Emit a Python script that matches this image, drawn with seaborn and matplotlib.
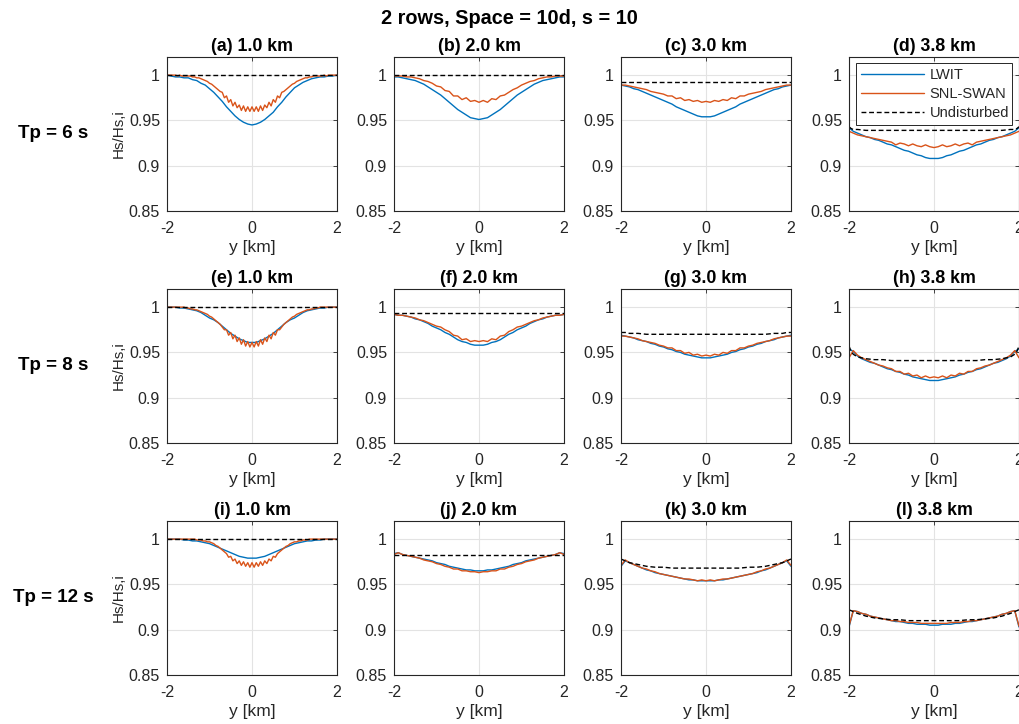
import numpy as np
import matplotlib
matplotlib.use("Agg")
import matplotlib.pyplot as plt
import seaborn as sns

# Cross-shore position grids [km]
Y41 = np.round(np.linspace(-2.0, 2.0, 41), 3)
Y81 = np.round(np.linspace(-2.0, 2.0, 81), 3)
Y_UND = [-2.0, -1.95, -1.9, -1.8, -1.6, -1.4, -1.2, -1.0, -0.8, -0.6, -0.4, -0.2, 0.0,
         0.2, 0.4, 0.6, 0.8, 1.0, 1.2, 1.4, 1.6, 1.8, 1.9, 1.95, 2.0]

PANEL_TITLES = ["(a) 1.0 km", "(b) 2.0 km", "(c) 3.0 km", "(d) 3.8 km",
                "(e) 1.0 km", "(f) 2.0 km", "(g) 3.0 km", "(h) 3.8 km",
                "(i) 1.0 km", "(j) 2.0 km", "(k) 3.0 km", "(l) 3.8 km"]
ROW_LABELS = ["Tp = 6 s", "Tp = 8 s", "Tp = 12 s"]
SERIES = ["LWIT", "SNL-SWAN", "Undisturbed"]

# ---------------- Tp = 6 s ----------------
lwit_a = [1.000, 0.999, 0.998, 0.998, 0.997, 0.997, 0.995, 0.994, 0.991, 0.989,
          0.985, 0.981, 0.976, 0.971, 0.965, 0.960, 0.955, 0.951, 0.948, 0.946,
          0.945,
          0.946, 0.948, 0.951, 0.955, 0.959, 0.965, 0.970, 0.976, 0.981, 0.986,
          0.989, 0.992, 0.994, 0.996, 0.997, 0.998, 0.998, 0.999, 0.999, 1.000]
swan_a = [1.000, 1.000, 1.000, 1.000, 1.000, 0.999, 1.000, 0.999, 0.999, 0.999,
          0.999, 0.999, 0.998, 0.998, 0.997, 0.997, 0.996, 0.995, 0.994, 0.993,
          0.991, 0.990, 0.988, 0.986, 0.984, 0.982, 0.981, 0.975, 0.977, 0.970,
          0.973, 0.966, 0.970, 0.964, 0.967, 0.961, 0.966, 0.960, 0.965, 0.960,
          0.965,
          0.960, 0.965, 0.960, 0.966, 0.961, 0.967, 0.964, 0.970, 0.966, 0.973,
          0.970, 0.977, 0.975, 0.981, 0.982, 0.984, 0.986, 0.988, 0.990, 0.991,
          0.993, 0.994, 0.995, 0.996, 0.997, 0.997, 0.998, 0.998, 0.999, 0.999,
          0.999, 0.999, 0.999, 1.000, 0.999, 1.000, 1.000, 1.000, 1.000, 1.000]
und_a = [1.000, 1.000, 1.000, 1.000, 1.000, 1.000, 1.000, 1.000, 1.000, 1.000, 1.000, 1.000, 1.000,
         1.000, 1.000, 1.000, 1.000, 1.000, 1.000, 1.000, 1.000, 1.000, 1.000, 1.000, 1.000]

lwit_b = [0.998, 0.998, 0.997, 0.996, 0.995, 0.994, 0.992, 0.990, 0.987, 0.984,
          0.981, 0.978, 0.974, 0.970, 0.966, 0.962, 0.959, 0.956, 0.953, 0.952,
          0.951,
          0.952, 0.953, 0.956, 0.959, 0.962, 0.966, 0.970, 0.974, 0.978, 0.981,
          0.984, 0.987, 0.990, 0.992, 0.994, 0.995, 0.996, 0.997, 0.998, 0.998]
swan_b = [0.999, 0.999, 0.999, 0.998, 0.998, 0.997, 0.996, 0.994, 0.993, 0.991,
          0.988, 0.987, 0.983, 0.982, 0.977, 0.977, 0.973, 0.975, 0.971, 0.972,
          0.970,
          0.972, 0.970, 0.974, 0.973, 0.977, 0.978, 0.981, 0.984, 0.986, 0.989,
          0.991, 0.993, 0.994, 0.996, 0.997, 0.998, 0.998, 0.999, 0.999, 0.999]
und_b = [1.000, 1.000, 1.000, 1.000, 1.000, 1.000, 1.000, 1.000, 1.000, 1.000, 1.000, 1.000, 1.000,
         1.000, 1.000, 1.000, 1.000, 1.000, 1.000, 1.000, 1.000, 1.000, 1.000, 1.000, 1.000]

lwit_c = [0.989, 0.988, 0.987, 0.985, 0.984, 0.982, 0.980, 0.978, 0.976, 0.974,
          0.972, 0.970, 0.968, 0.965, 0.963, 0.961, 0.959, 0.957, 0.955, 0.954,
          0.954,
          0.954, 0.955, 0.957, 0.959, 0.961, 0.963, 0.965, 0.968, 0.970, 0.972,
          0.974, 0.976, 0.978, 0.980, 0.982, 0.984, 0.985, 0.987, 0.988, 0.989]
swan_c = [0.989, 0.989, 0.988, 0.987, 0.986, 0.985, 0.984, 0.982, 0.981, 0.980,
          0.979, 0.977, 0.977, 0.974, 0.975, 0.972, 0.973, 0.971, 0.972, 0.970,
          0.971,
          0.970, 0.972, 0.971, 0.973, 0.972, 0.975, 0.974, 0.977, 0.977, 0.979,
          0.980, 0.981, 0.982, 0.984, 0.985, 0.986, 0.987, 0.988, 0.989, 0.989]
und_c = [0.992, 0.992, 0.992, 0.992, 0.992, 0.992, 0.992, 0.992, 0.992, 0.992, 0.992, 0.992, 0.992,
         0.992, 0.992, 0.992, 0.992, 0.992, 0.992, 0.992, 0.992, 0.992, 0.992, 0.992, 0.992]

lwit_d = [0.942, 0.938, 0.936, 0.934, 0.932, 0.931, 0.929, 0.928, 0.926, 0.924,
          0.923, 0.921, 0.919, 0.917, 0.916, 0.914, 0.912, 0.911, 0.909, 0.908,
          0.908,
          0.908, 0.909, 0.911, 0.912, 0.914, 0.916, 0.917, 0.919, 0.921, 0.923,
          0.924, 0.926, 0.928, 0.929, 0.931, 0.932, 0.934, 0.936, 0.938, 0.942]
swan_d = [0.938, 0.936, 0.934, 0.933, 0.932, 0.931, 0.930, 0.929, 0.928, 0.927,
          0.926, 0.923, 0.925, 0.924, 0.922, 0.924, 0.922, 0.921, 0.923, 0.921,
          0.920,
          0.921, 0.923, 0.921, 0.922, 0.924, 0.922, 0.924, 0.925, 0.923, 0.926,
          0.927, 0.928, 0.929, 0.930, 0.931, 0.932, 0.933, 0.934, 0.936, 0.938]
und_d = [0.943, 0.941, 0.940, 0.940, 0.939, 0.939, 0.939, 0.939, 0.939, 0.939, 0.939, 0.939, 0.939,
         0.939, 0.939, 0.939, 0.939, 0.939, 0.939, 0.939, 0.939, 0.940, 0.940, 0.941, 0.943]

# ---------------- Tp = 8 s ----------------
lwit_e = [1.000, 1.000, 1.000, 0.999, 0.999, 0.998, 0.997, 0.996, 0.994, 0.991,
          0.988, 0.986, 0.983, 0.979, 0.975, 0.971, 0.968, 0.965, 0.963, 0.961,
          0.961,
          0.961, 0.963, 0.965, 0.968, 0.971, 0.975, 0.979, 0.983, 0.986, 0.988,
          0.991, 0.994, 0.996, 0.997, 0.998, 0.999, 0.999, 1.000, 1.000, 1.000]
swan_e = [1.000, 1.000, 1.000, 1.000, 1.000, 1.000, 1.000, 1.000, 1.000, 0.999,
          0.999, 0.998, 0.998, 0.997, 0.997, 0.996, 0.995, 0.994, 0.993, 0.992,
          0.990, 0.989, 0.987, 0.985, 0.983, 0.981, 0.978, 0.975, 0.975, 0.969,
          0.972, 0.965, 0.969, 0.962, 0.966, 0.959, 0.964, 0.957, 0.962, 0.956,
          0.961,
          0.956, 0.962, 0.957, 0.964, 0.959, 0.966, 0.962, 0.969, 0.965, 0.972,
          0.969, 0.975, 0.975, 0.978, 0.981, 0.983, 0.985, 0.987, 0.989, 0.990,
          0.992, 0.993, 0.994, 0.995, 0.996, 0.997, 0.997, 0.998, 0.998, 0.999,
          0.999, 1.000, 1.000, 1.000, 1.000, 1.000, 1.000, 1.000, 1.000, 1.000]
und_e = [1.000, 1.000, 1.000, 1.000, 1.000, 1.000, 1.000, 1.000, 1.000, 1.000, 1.000, 1.000, 1.000,
         1.000, 1.000, 1.000, 1.000, 1.000, 1.000, 1.000, 1.000, 1.000, 1.000, 1.000, 1.000]

lwit_f = [0.992, 0.991, 0.991, 0.990, 0.989, 0.987, 0.986, 0.984, 0.982, 0.979,
          0.977, 0.975, 0.972, 0.970, 0.967, 0.964, 0.962, 0.961, 0.959, 0.958,
          0.958,
          0.958, 0.959, 0.961, 0.962, 0.964, 0.967, 0.970, 0.972, 0.975, 0.977,
          0.979, 0.982, 0.984, 0.986, 0.987, 0.989, 0.990, 0.991, 0.991, 0.992]
swan_f = [0.992, 0.991, 0.991, 0.990, 0.989, 0.988, 0.986, 0.985, 0.983, 0.981,
          0.979, 0.978, 0.975, 0.973, 0.969, 0.968, 0.964, 0.965, 0.962, 0.963,
          0.962,
          0.963, 0.962, 0.965, 0.964, 0.968, 0.969, 0.973, 0.975, 0.978, 0.979,
          0.981, 0.983, 0.985, 0.986, 0.988, 0.989, 0.990, 0.991, 0.991, 0.992]
und_f = [0.993, 0.993, 0.993, 0.993, 0.993, 0.993, 0.993, 0.993, 0.993, 0.993, 0.993, 0.993, 0.993,
         0.993, 0.993, 0.993, 0.993, 0.993, 0.993, 0.993, 0.993, 0.993, 0.993, 0.993, 0.993]

lwit_g = [0.969, 0.968, 0.967, 0.966, 0.964, 0.963, 0.962, 0.960, 0.959, 0.957,
          0.956, 0.954, 0.953, 0.951, 0.950, 0.948, 0.947, 0.946, 0.945, 0.944,
          0.944,
          0.944, 0.945, 0.946, 0.947, 0.948, 0.950, 0.951, 0.953, 0.954, 0.956,
          0.957, 0.959, 0.960, 0.962, 0.963, 0.964, 0.966, 0.967, 0.968, 0.969]
swan_g = [0.968, 0.968, 0.967, 0.966, 0.965, 0.963, 0.962, 0.961, 0.960, 0.958,
          0.957, 0.955, 0.955, 0.952, 0.952, 0.949, 0.950, 0.947, 0.948, 0.946,
          0.947,
          0.946, 0.948, 0.947, 0.950, 0.949, 0.952, 0.952, 0.955, 0.955, 0.957,
          0.958, 0.960, 0.961, 0.962, 0.963, 0.965, 0.966, 0.967, 0.968, 0.968]
und_g = [0.972, 0.972, 0.972, 0.971, 0.971, 0.970, 0.970, 0.970, 0.970, 0.970, 0.970, 0.970, 0.970,
         0.970, 0.970, 0.970, 0.970, 0.970, 0.970, 0.970, 0.971, 0.971, 0.972, 0.972, 0.972]

lwit_h = [0.954, 0.951, 0.946, 0.943, 0.941, 0.939, 0.938, 0.936, 0.934, 0.932,
          0.931, 0.929, 0.928, 0.926, 0.925, 0.923, 0.922, 0.921, 0.920, 0.919,
          0.919,
          0.919, 0.920, 0.921, 0.922, 0.923, 0.925, 0.926, 0.928, 0.929, 0.931,
          0.932, 0.934, 0.936, 0.938, 0.939, 0.941, 0.943, 0.946, 0.951, 0.954]
swan_h = [0.944, 0.952, 0.947, 0.944, 0.942, 0.940, 0.938, 0.936, 0.935, 0.933,
          0.932, 0.929, 0.929, 0.926, 0.927, 0.924, 0.925, 0.922, 0.924, 0.922,
          0.923,
          0.922, 0.924, 0.922, 0.925, 0.924, 0.927, 0.926, 0.929, 0.929, 0.932,
          0.933, 0.935, 0.936, 0.938, 0.940, 0.942, 0.944, 0.947, 0.952, 0.944]
und_h = [0.957, 0.951, 0.948, 0.945, 0.943, 0.942, 0.942, 0.941, 0.941, 0.941, 0.941, 0.941, 0.941,
         0.941, 0.941, 0.941, 0.941, 0.941, 0.942, 0.942, 0.943, 0.945, 0.948, 0.951, 0.957]

# ---------------- Tp = 12 s ----------------
lwit_i = [1.000, 1.000, 1.000, 1.000, 0.999, 0.999, 0.998, 0.998, 0.997, 0.996,
          0.995, 0.993, 0.991, 0.989, 0.987, 0.985, 0.983, 0.981, 0.980, 0.979,
          0.979,
          0.979, 0.980, 0.981, 0.983, 0.985, 0.987, 0.989, 0.991, 0.993, 0.995,
          0.996, 0.997, 0.998, 0.998, 0.999, 0.999, 1.000, 1.000, 1.000, 1.000]
swan_i = [1.000, 1.000, 1.000, 1.000, 1.000, 1.000, 1.000, 1.000, 1.000, 1.000,
          1.000, 1.000, 1.000, 1.000, 0.999, 0.999, 0.999, 0.998, 0.998, 0.997,
          0.997, 0.996, 0.995, 0.993, 0.992, 0.990, 0.988, 0.986, 0.984, 0.980,
          0.981, 0.976, 0.978, 0.973, 0.976, 0.971, 0.975, 0.970, 0.974, 0.969,
          0.974,
          0.969, 0.974, 0.970, 0.975, 0.971, 0.976, 0.973, 0.978, 0.976, 0.981,
          0.980, 0.984, 0.986, 0.988, 0.990, 0.992, 0.993, 0.995, 0.996, 0.997,
          0.997, 0.998, 0.998, 0.999, 0.999, 0.999, 1.000, 1.000, 1.000, 1.000,
          1.000, 1.000, 1.000, 1.000, 1.000, 1.000, 1.000, 1.000, 1.000, 1.000]
und_i = [1.000, 1.000, 1.000, 1.000, 1.000, 1.000, 1.000, 1.000, 1.000, 1.000, 1.000, 1.000, 1.000,
         1.000, 1.000, 1.000, 1.000, 1.000, 1.000, 1.000, 1.000, 1.000, 1.000, 1.000, 1.000]

lwit_j = [0.984, 0.985, 0.983, 0.982, 0.981, 0.980, 0.979, 0.978, 0.977, 0.976,
          0.974, 0.973, 0.972, 0.970, 0.969, 0.968, 0.967, 0.966, 0.966, 0.965,
          0.965,
          0.965, 0.966, 0.966, 0.967, 0.968, 0.969, 0.970, 0.972, 0.973, 0.974,
          0.976, 0.977, 0.978, 0.979, 0.980, 0.981, 0.982, 0.983, 0.985, 0.984]
swan_j = [0.983, 0.985, 0.983, 0.982, 0.981, 0.980, 0.979, 0.977, 0.976, 0.975,
          0.973, 0.972, 0.970, 0.969, 0.967, 0.967, 0.965, 0.965, 0.964, 0.964,
          0.963,
          0.964, 0.964, 0.965, 0.965, 0.967, 0.967, 0.969, 0.970, 0.972, 0.973,
          0.975, 0.976, 0.977, 0.979, 0.980, 0.981, 0.982, 0.983, 0.985, 0.983]
und_j = [0.983, 0.983, 0.983, 0.983, 0.983, 0.983, 0.983, 0.983, 0.983, 0.983, 0.983, 0.983, 0.983,
         0.983, 0.983, 0.983, 0.983, 0.983, 0.983, 0.983, 0.983, 0.983, 0.983, 0.983, 0.983]

lwit_k = [0.970, 0.976, 0.974, 0.972, 0.970, 0.968, 0.966, 0.965, 0.963, 0.962,
          0.961, 0.960, 0.959, 0.958, 0.957, 0.956, 0.955, 0.955, 0.954, 0.954,
          0.954,
          0.954, 0.954, 0.955, 0.955, 0.956, 0.957, 0.958, 0.959, 0.960, 0.961,
          0.962, 0.963, 0.965, 0.966, 0.968, 0.970, 0.972, 0.974, 0.976, 0.970]
swan_k = [0.971, 0.977, 0.974, 0.972, 0.970, 0.968, 0.967, 0.965, 0.964, 0.962,
          0.961, 0.960, 0.959, 0.958, 0.957, 0.956, 0.956, 0.955, 0.954, 0.955,
          0.954,
          0.955, 0.954, 0.955, 0.956, 0.956, 0.957, 0.958, 0.959, 0.960, 0.961,
          0.962, 0.964, 0.965, 0.967, 0.968, 0.970, 0.972, 0.974, 0.977, 0.971]
und_k = [0.978, 0.977, 0.976, 0.974, 0.972, 0.970, 0.969, 0.969, 0.968, 0.968, 0.968, 0.968, 0.968,
         0.968, 0.968, 0.968, 0.968, 0.969, 0.969, 0.970, 0.972, 0.974, 0.976, 0.977, 0.978]

lwit_l = [0.903, 0.921, 0.920, 0.918, 0.917, 0.915, 0.914, 0.913, 0.912, 0.911,
          0.910, 0.909, 0.909, 0.908, 0.907, 0.907, 0.906, 0.906, 0.906, 0.905,
          0.905,
          0.905, 0.906, 0.906, 0.906, 0.907, 0.907, 0.908, 0.909, 0.909, 0.910,
          0.911, 0.912, 0.913, 0.914, 0.915, 0.917, 0.918, 0.920, 0.921, 0.903]
swan_l = [0.904, 0.921, 0.920, 0.918, 0.917, 0.915, 0.914, 0.913, 0.912, 0.911,
          0.910, 0.910, 0.909, 0.909, 0.908, 0.908, 0.908, 0.907, 0.907, 0.907,
          0.907,
          0.907, 0.907, 0.907, 0.908, 0.908, 0.908, 0.909, 0.909, 0.910, 0.910,
          0.911, 0.912, 0.913, 0.914, 0.915, 0.917, 0.918, 0.920, 0.921, 0.904]
und_l = [0.922, 0.921, 0.920, 0.918, 0.915, 0.913, 0.912, 0.911, 0.911, 0.910, 0.910, 0.910, 0.910,
         0.910, 0.910, 0.910, 0.911, 0.911, 0.912, 0.913, 0.915, 0.918, 0.920, 0.921, 0.922]

LWIT = [lwit_a, lwit_b, lwit_c, lwit_d, lwit_e, lwit_f, lwit_g, lwit_h,
        lwit_i, lwit_j, lwit_k, lwit_l]
SWAN = [swan_a, swan_b, swan_c, swan_d, swan_e, swan_f, swan_g, swan_h,
        swan_i, swan_j, swan_k, swan_l]
UND = [und_a, und_b, und_c, und_d, und_e, und_f, und_g, und_h,
       und_i, und_j, und_k, und_l]

C_LWIT = "#0072BD"
C_SWAN = "#D95319"
INK = "#262626"

sns.set_theme(style="white")
plt.rcParams["font.family"] = ["Liberation Sans", "DejaVu Sans"]
plt.rcParams["axes.unicode_minus"] = False

fig = plt.figure(figsize=(10.19, 7.24), dpi=100)
W, H = 1019.0, 724.0
col_left = [167, 394, 621, 849]
row_top = [57, 289, 521]
ax_w, ax_h = 170, 154

for k in range(12):
    r, c = divmod(k, 4)
    ax = fig.add_axes([col_left[c] / W, 1 - (row_top[r] + ax_h) / H, ax_w / W, ax_h / H])
    swan_x = Y81 if len(SWAN[k]) == 81 else Y41
    sns.lineplot(x=Y41, y=LWIT[k], ax=ax, color=C_LWIT, lw=1.0, label=SERIES[0],
                 estimator=None, sort=False)
    sns.lineplot(x=swan_x, y=SWAN[k], ax=ax, color=C_SWAN, lw=1.0, label=SERIES[1],
                 estimator=None, sort=False)
    sns.lineplot(x=Y_UND, y=UND[k], ax=ax, color="black", lw=1.0, linestyle=(0, (3.5, 2)),
                 label=SERIES[2], estimator=None, sort=False)

    ax.set_xlim(-2, 2)
    ax.set_ylim(0.85, 1.02)
    ax.set_xticks([-2, 0, 2])
    ax.set_xticklabels(["-2", "0", "2"])
    ax.set_yticks([0.85, 0.9, 0.95, 1.0])
    ax.set_yticklabels(["0.85", "0.9", "0.95", "1"])
    ax.grid(True, color="#e3e3e3", lw=0.8)
    ax.set_axisbelow(True)
    for s in ax.spines.values():
        s.set_color(INK)
        s.set_linewidth(0.8)
        s.set_visible(True)
    ax.tick_params(direction="in", length=3, width=0.6, color=INK, labelcolor=INK,
                   labelsize=11.5, top=True, right=True)
    ax.tick_params(axis="x", pad=7)
    ax.tick_params(axis="y", pad=5)
    ax.set_xlabel("y [km]", fontsize=12.5, color=INK, labelpad=3)
    if c == 0:
        ax.set_ylabel("Hs/Hs,i", fontsize=11, color=INK)
        ax.yaxis.set_label_coords(-0.245, 0.5)
    else:
        ax.set_ylabel("")
    ax.set_title(PANEL_TITLES[k], fontsize=12.8, fontweight="bold", color="black", pad=4)

    if k == 3:
        leg = ax.legend(loc="upper left", bbox_to_anchor=(0.041, 0.0, 0.918, 0.961),
                        mode="expand", fontsize=10.5, handlelength=4.3, handletextpad=0.4,
                        labelspacing=0.35, borderpad=0.35, frameon=True, fancybox=False,
                        borderaxespad=0.0)
        leg.get_frame().set_edgecolor(INK)
        leg.get_frame().set_linewidth(0.7)
        leg.get_frame().set_alpha(1.0)
    else:
        lg = ax.get_legend()
        if lg is not None:
            lg.remove()

for r, lab in enumerate(ROW_LABELS):
    yc = row_top[r] + ax_h / 2
    fig.text(53 / W, 1 - yc / H, lab, ha="center", va="center", fontsize=13.5,
             fontweight="bold", color="black")

fig.text(509 / W, 1 - 18 / H, "2 rows, Space = 10d, s = 10", ha="center", va="center",
         fontsize=14.3, fontweight="bold", color="black")

fig.savefig("out.png", dpi=100, facecolor="white")
